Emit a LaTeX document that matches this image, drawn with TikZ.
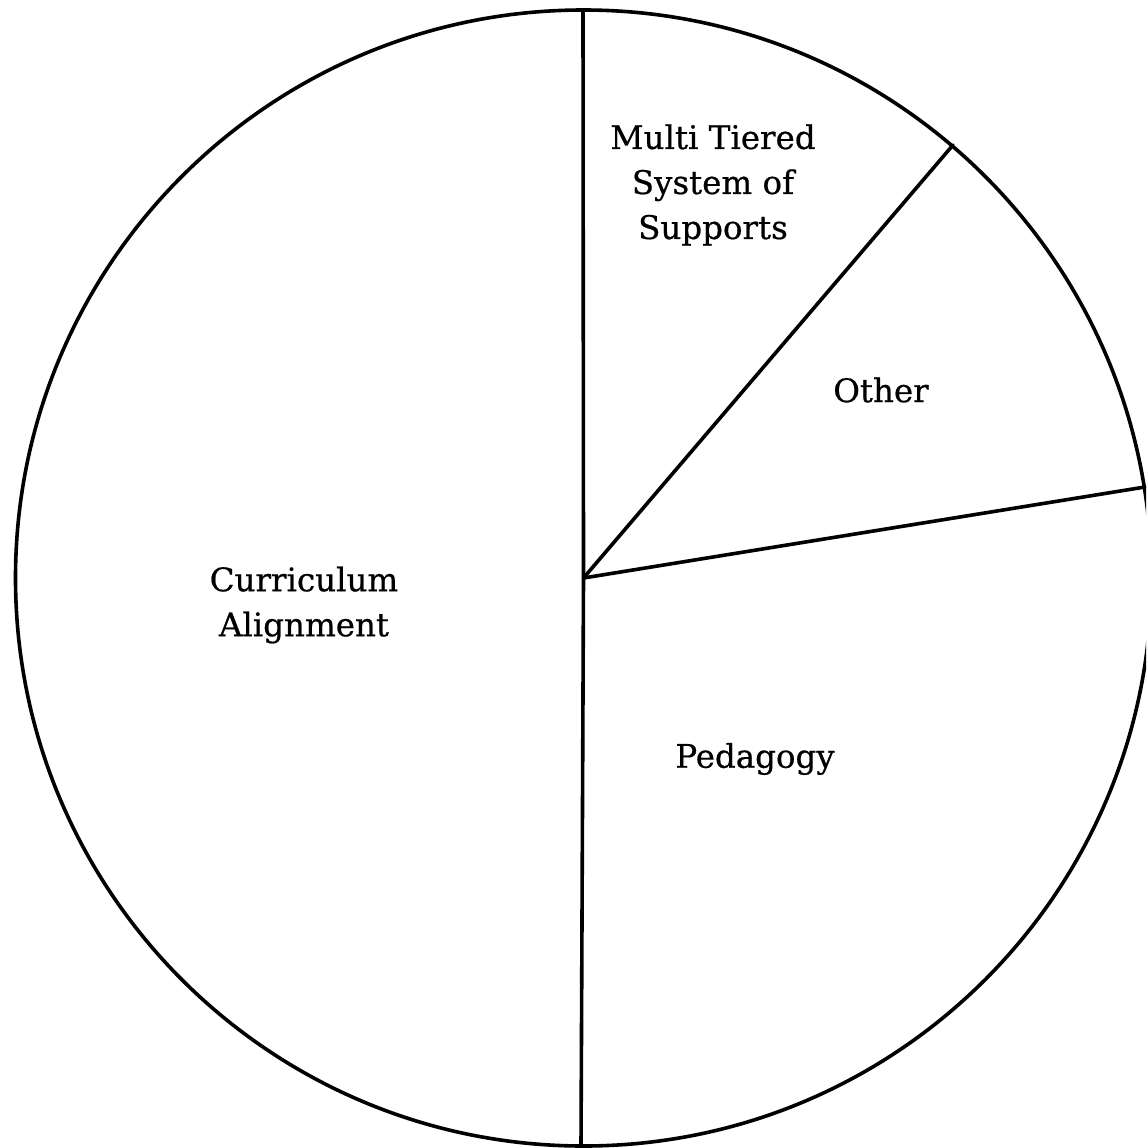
\documentclass[tikz,border=0pt]{standalone}
\usepackage{fontspec}
\setmainfont{DejaVu Serif}[FakeBold=0.6]
\begin{document}
\begin{tikzpicture}[x=1pt,y=-1pt,
  edge/.style={line width=3.6pt,line cap=round,line join=round},
  lbl/.style={align=center,font=\fontsize{32.5}{45}\selectfont,inner sep=0pt}]
\useasboundingbox (0,0) rectangle (1146,1148);
\clip (0,0) rectangle (1146,1148);
\coordinate (c) at (583.5,578);
\coordinate (top) at (583,10);
\coordinate (p1) at (953,145);
\coordinate (p2) at (1145,487);
\coordinate (bot) at (581,1146);
\draw[edge] (c) circle[radius=568];
\draw[edge] (top) -- (c);
\draw[edge] (c) -- (p1);
\draw[edge] (c) -- (p2);
\draw[edge] (c) -- (bot);
\node[lbl] (mtss) at (713,185) {Multi Tiered\\System of\\Supports};
\node[lbl] (other) at (881,390) {Other};
\node[lbl] (curr) at (304,605) {Curriculum\\Alignment};
\node[lbl] (ped) at (755,759) {Pedagogy};
\end{tikzpicture}
\end{document}
